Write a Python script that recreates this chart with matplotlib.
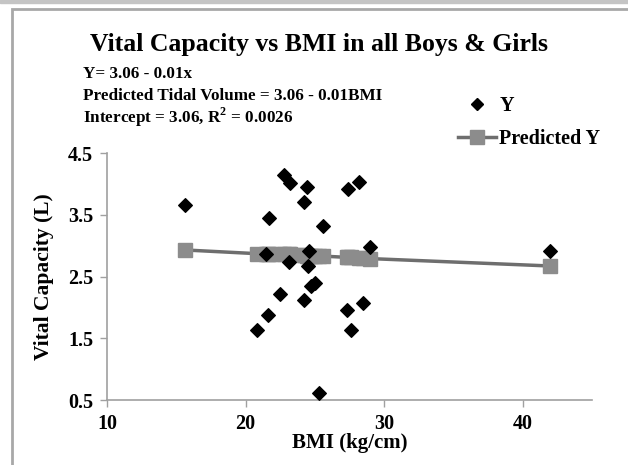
import matplotlib
matplotlib.use("Agg")
import matplotlib.pyplot as plt
from matplotlib.lines import Line2D
from matplotlib.patches import Rectangle

# ── Data ──────────────────────────────────────────────────────────────────────
bmi = [15.6, 22.8, 23.2, 24.4, 24.2, 21.7, 25.6, 21.5, 23.1, 24.6,
       24.5, 22.5, 24.7, 25.0, 24.2, 21.6, 20.8, 25.3, 27.4, 28.2,
       29.0, 27.3, 27.6, 28.5, 42.0]
vital_capacity = [3.65, 4.15, 4.02, 3.95, 3.71, 3.44, 3.32, 2.86, 2.74, 2.92,
                  2.67, 2.21, 2.35, 2.40, 2.12, 1.88, 1.64, 0.62, 3.92, 4.03,
                  2.97, 1.95, 1.64, 2.07, 2.92]
predicted = [2.93, 2.86, 2.86, 2.84, 2.85, 2.87, 2.83, 2.87, 2.86, 2.84,
             2.84, 2.86, 2.84, 2.84, 2.85, 2.87, 2.87, 2.83, 2.81, 2.80,
             2.79, 2.81, 2.81, 2.80, 2.67]

title = "Vital Capacity vs BMI in all Boys & Girls"
notes = ["Y= 3.06 - 0.01x",
         "Predicted Tidal Volume = 3.06 - 0.01BMI",
         "Intercept = 3.06, R$^2$ = 0.0026"]
x_ticks = [10, 20, 30, 40]
y_ticks = [0.5, 1.5, 2.5, 3.5, 4.5]

plt.rcParams["font.family"] = ["Liberation Serif", "DejaVu Serif"]
plt.rcParams["mathtext.fontset"] = "custom"
plt.rcParams["mathtext.rm"] = "Liberation Serif:bold"

W, H = 628, 465
fig = plt.figure(figsize=(W / 100, H / 100), dpi=100)

# page frame and cut-off strip at the top
fig.patches.append(Rectangle((0, 1 - 3 / H), 1, 3 / H, transform=fig.transFigure,
                             color="#c4c4c4", zorder=0))
fig.patches.append(Rectangle((12 / W, -0.05), 1.0, 1 - 9 / H + 0.05,
                             transform=fig.transFigure, fill=False,
                             edgecolor="#a8a8a8", lw=2, zorder=0))

ax = fig.add_axes([107 / W, 1 - 400 / H, (592 - 107) / W, (400 - 153) / H])

# sort by x for the fitted line
pairs = sorted(zip(bmi, predicted))
ax.plot([p[0] for p in pairs], [p[1] for p in pairs], color="#6e6e6e", lw=2.5,
        marker="s", markersize=10, markerfacecolor="#8c8c8c",
        markeredgecolor="#8c8c8c", zorder=2, clip_on=False)
ax.scatter(bmi, vital_capacity, marker="D", s=48, color="black", zorder=3,
           clip_on=False)

ax.set_xlim(10, 45)
ax.set_ylim(0.5, 4.5)
ax.set_xticks(x_ticks)
ax.set_yticks(y_ticks)
ax.set_xticklabels([str(t) for t in x_ticks], fontsize=14.5, fontweight="bold")
ax.set_yticklabels([str(t) for t in y_ticks], fontsize=14.5, fontweight="bold")
for s in ["top", "right"]:
    ax.spines[s].set_visible(False)
for s in ["left", "bottom"]:
    ax.spines[s].set_color("#a0a0a0")
    ax.spines[s].set_linewidth(1.2)
ax.tick_params(color="#a0a0a0", length=5, width=1, pad=5)
ax.set_xlabel("BMI (kg/cm)", fontsize=15, fontweight="bold", labelpad=-1)
ax.set_ylabel("Vital Capacity (L)", fontsize=15.5, fontweight="bold", labelpad=10)

fig.text(319 / W, 1 - 44 / H, title, ha="center", va="center",
         fontsize=18.5, fontweight="bold")
for i, line in enumerate(notes):
    fig.text(83 / W, 1 - (74 + i * 21.5) / H, line, ha="left", va="center",
             fontsize=12.3, fontweight="bold")

handles = [Line2D([], [], ls="none", marker="D", markersize=6.5, color="black"),
           Line2D([], [], color="#6e6e6e", lw=2.5, marker="s", markersize=10,
                  markerfacecolor="#8c8c8c", markeredgecolor="#8c8c8c")]
fig.legend(handles, ["Y", "Predicted Y"], loc="upper left",
           bbox_to_anchor=(440 / W, 1 - 78 / H), frameon=False,
           prop={"size": 14.5, "weight": "bold"}, handlelength=1.9,
           handletextpad=0.15, labelspacing=0.62)

fig.savefig("out.png", dpi=100)
